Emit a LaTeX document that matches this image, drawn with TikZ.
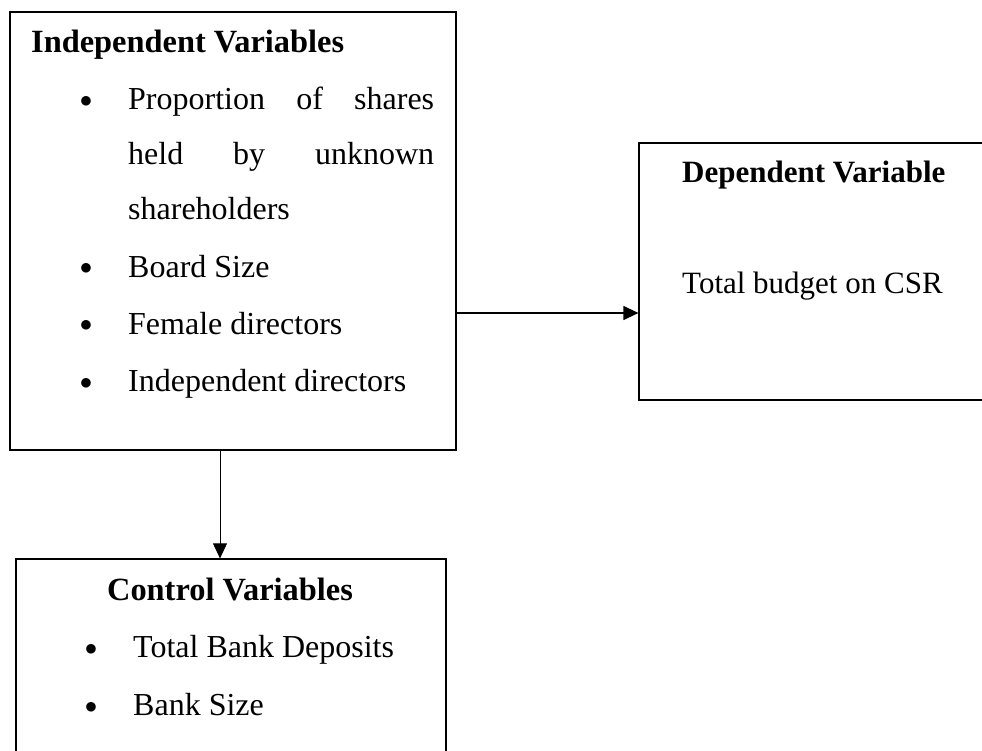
\documentclass[tikz,border=0pt]{standalone}
\usepackage{fontspec}
\setmainfont{Liberation Serif}
\usetikzlibrary{positioning,arrows.meta,calc}

\begin{document}
\begin{tikzpicture}[x=1pt, y=-1pt, every node/.style={font=\fontsize{32}{55}\selectfont, inner sep=0pt}]
  \tikzset{
      varbox/.style={draw, line width=1.2pt, rectangle},
      head/.style={anchor=base west, font=\fontsize{32.4}{55}\selectfont\bfseries},
      small/.style={font=\fontsize{31}{55}\selectfont},
      bul/.style={anchor=base, font=\fontsize{32}{55}\selectfont\raisebox{2pt}{$\bullet$}},
      entry/.style={anchor=base west},
      conn/.style={line width=#1, -{Triangle[length=15pt, width=14pt]}}
  }
  \clip (0,0) rectangle (982,751);

  \node[varbox, minimum width=446pt, minimum height=438pt] (indep) at (233,231) {};
  \node[varbox, minimum width=351pt, minimum height=257pt] (dep)   at (814.5,271.5) {};
  \node[varbox, minimum width=430pt, minimum height=210pt] (ctrl)  at (231,664) {};

  \node[head] (indephead) at (31,53) {Independent Variables};
  \node[bul] (ib1) at (86,110) {};
  \node[entry, text width=306pt, align=justify] (ie1) at (128,110)
      {\noindent Proportion of shares\linebreak held by unknown\linebreak shareholders};
  \node[bul] (ib2) at (86,277) {};
  \node[entry] (ie2) at (128,277) {Board Size};
  \node[bul] (ib3) at (86,334) {};
  \node[entry] (ie3) at (128,334) {Female directors};
  \node[bul] (ib4) at (86,391) {};
  \node[entry] (ie4) at (128,391) {Independent directors};

  \node[head, font=\fontsize{31}{55}\selectfont\bfseries] (dephead) at (682,183) {Dependent Variable};
  \node[entry, small] (depe1) at (682,293) {Total budget on CSR};

  \node[head, anchor=base] (ctrlhead) at (230,600) {Control Variables};
  \node[bul] (cb1) at (91,657) {};
  \node[entry] (ce1) at (133,657) {Total Bank Deposits};
  \node[bul] (cb2) at (91,715) {};
  \node[entry] (ce2) at (133,715) {Bank Size};

  \coordinate (hline) at (0,313);
  \coordinate (vline) at (220,0);
  \draw[conn=1.2pt] (indep.east |- hline) -- (dep.west |- hline);
  \draw[conn=0.8pt] (vline |- indep.south) -- (vline |- ctrl.north);
\end{tikzpicture}
\end{document}
